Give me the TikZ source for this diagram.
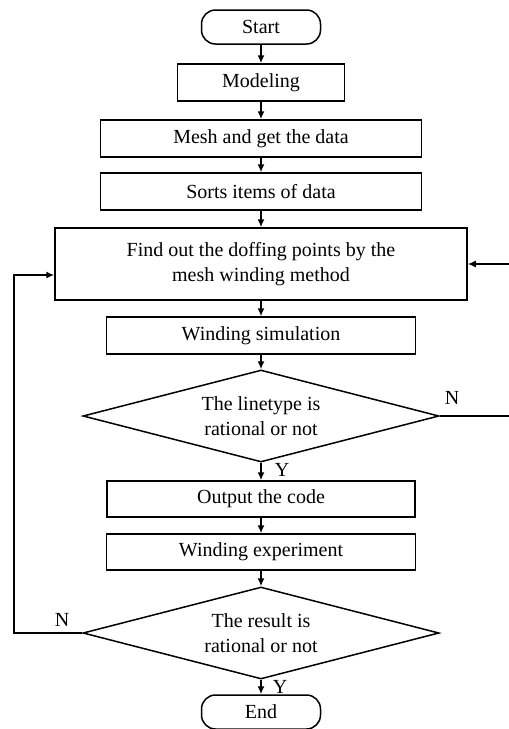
\documentclass[tikz,border=0pt]{standalone}
\usepackage{fontspec}
\setmainfont{Liberation Serif}
\usetikzlibrary{shapes.geometric,arrows.meta}

\begin{document}
\begin{tikzpicture}[x=0.5pt,y=-0.5pt,
    font=\fontsize{10}{12.5}\selectfont,
    box/.style={draw, line width=0.75pt, minimum height=18.5pt, inner sep=0pt, align=center},
    term/.style={box, rounded corners=7pt, minimum width=59.5pt, minimum height=17pt},
    decision/.style={draw, line width=0.75pt, diamond, aspect=3.9, minimum width=178pt,
        minimum height=46pt, inner sep=0pt, align=center},
    flow/.style={line width=0.75pt, -{Latex[length=4pt,width=3.5pt]}}]
    \useasboundingbox (0,0) rectangle (509,729);

    \node[term] (start) at (261,27) {Start};
    \node[box, minimum width=83.5pt] (model) at (261,82.5) {Modeling};
    \node[box, minimum width=160.5pt] (mesh) at (261,138.5) {Mesh and get the data};
    \node[box, minimum width=160.5pt] (sorts) at (261,191.5) {Sorts items of data};
    \node[box, minimum width=206pt, minimum height=36pt] (find) at (261,264)
        {Find out the doffing points by the\\mesh winding method};
    \node[box, minimum width=154.5pt] (sim) at (261,335.5) {Winding simulation};
    \node[decision] (check1) at (261,416) {The linetype is\\rational or not};
    \node[box, minimum width=154pt, minimum height=18pt] (code) at (261,499) {Output the code};
    \node[box, minimum width=154.5pt, minimum height=18pt] (exper) at (261,552) {Winding experiment};
    \node[decision] (check2) at (261,633) {The result is\\rational or not};
    \node[term] (end) at (261,712) {End};

    % main line
    \draw[flow] (start) -- (model);
    \draw[flow] (model) -- (mesh);
    \draw[flow] (mesh) -- (sorts);
    \draw[flow] (sorts) -- (find);
    \draw[flow] (find) -- (sim);
    \draw[flow] (sim) -- (check1);
    \draw[flow] (check1) -- (code);
    \draw[flow] (code) -- (exper);
    \draw[flow] (exper) -- (check2);
    \draw[flow] (check2) -- (end);

    % loops back
    \coordinate (rightout) at (514,416);
    \coordinate (leftout) at (14,633);
    \draw[flow] (check1.east) -- (rightout) |- (find.east);
    \draw[flow] (check2.west) -- (leftout) |- ([yshift=-5.5pt]find.west);

    \node (n1) at (452,398) {N};
    \node (y1) at (282,470) {Y};
    \node (n2) at (62,620) {N};
    \node (y2) at (280,687) {Y};
\end{tikzpicture}
\end{document}
